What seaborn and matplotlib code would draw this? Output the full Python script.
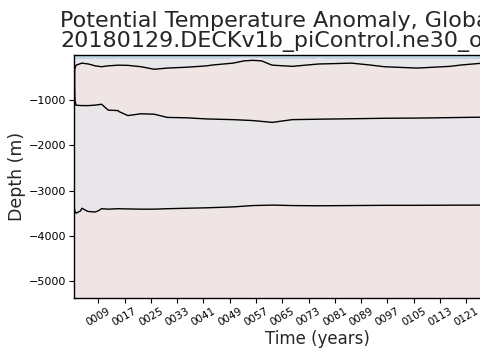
import numpy as np
import matplotlib
matplotlib.use("Agg")
import matplotlib.pyplot as plt
from matplotlib.colors import ListedColormap, BoundaryNorm
import seaborn as sns

sns.set_theme(style="ticks")
plt.rcParams['font.family'] = ['DejaVu Sans']

years = [1.6, 2.2, 4, 6, 8, 10, 12, 15, 18, 22, 26, 30, 36, 42, 50, 56, 62,
         68, 76, 86, 96, 106, 116, 126, 136, 150]
depth = [0, -60, -130, -220, -320, -450, -700, -1000, -1250, -1500, -2000,
         -2800, -3200, -3450, -3700, -4500, -5400]

row_0 = [-0.04, -0.1, -0.11, -0.1, -0.09, -0.11, -0.1, -0.09, -0.1, -0.11, -0.09, -0.1, -0.11,
         -0.1, -0.09, -0.1, -0.11, -0.1, -0.09, -0.11, -0.1, -0.09, -0.11, -0.1, -0.09, -0.1]
row_60 = [-0.02, -0.08, -0.085, -0.075, -0.07, -0.085, -0.08, -0.07, -0.08, -0.085, -0.075, -0.08, -0.085,
          -0.08, -0.07, -0.075, -0.085, -0.08, -0.07, -0.08, -0.085, -0.075, -0.08, -0.08, -0.07, -0.08]
row_130 = [-0.01, -0.02, -0.02, -0.02, -0.02, -0.02, -0.02, -0.02, -0.02, -0.02, -0.02, -0.02, -0.02,
           -0.02, -0.02, 0.016, -0.02, -0.02, -0.02, -0.02, -0.02, -0.02, -0.02, -0.02, -0.02, -0.02]
row_220 = [-0.01, -0.002, 0.016, 0.006, -0.005, -0.013, -0.005, -0.001, -0.002, -0.013, -0.02, -0.045, -0.02,
           -0.005, 0.016, 0.02, -0.001, -0.009, 0.006, 0.016, -0.013, -0.045, -0.009, 0.016, 0.006, -0.001]
row_320 = [-0.01, 0.02, 0.02, 0.02, 0.02, 0.02, 0.02, 0.02, 0.02, 0.02, 0.001, 0.02, 0.02,
           0.02, 0.02, 0.02, 0.02, 0.02, 0.02, 0.02, 0.02, 0.02, 0.02, 0.02, 0.02, 0.02]
row_450 = [-0.01] + [0.02] * 25
row_700 = [-0.01] + [0.02] * 25
row_1000 = [-0.01] + [0.01] * 25
row_1250 = [-0.01, -0.0127, -0.011, -0.011, -0.013, -0.018, -0.0014, -0.0009] + [0.01] * 18
row_1500 = [-0.02, -0.02, -0.02, -0.02, -0.02, -0.02, -0.02, -0.02, -0.0178, -0.04, -0.0317, -0.0092,
            -0.0079, -0.0052, -0.0039, -0.0025, -0.0004, -0.0039, -0.0047, -0.0056, -0.0067, -0.0072,
            -0.0085, -0.01, -0.0108, -0.0108]
row_2000 = [-0.02] * 26
row_2800 = [-0.02] * 26
row_3200 = [-0.01] * 26
row_3450 = [0.0079, -0.01, 0.0032, -0.001, -0.002, 0.0025, 0.0019, 0.0025, 0.0022, 0.0019, 0.0019,
            0.0025, 0.0032, 0.0039, 0.0056, 0.0092, 0.0108, 0.0092, 0.0085, 0.0092, 0.01, 0.01,
            0.0105, 0.0108, 0.0108, 0.0108]
row_3700 = [0.02, 0.04] + [0.02] * 24
row_4500 = [0.02] * 26
row_5400 = [0.02] * 26

theta_anom = np.array([row_0, row_60, row_130, row_220, row_320, row_450, row_700, row_1000,
                       row_1250, row_1500, row_2000, row_2800, row_3200, row_3450, row_3700,
                       row_4500, row_5400])

levels = [-0.5, -0.2, -0.05, 0, 0.05, 0.2, 0.5]
band_colors = ["#7fa6c8", "#a9c3d8", "#c2d5e3", "#e8e6e9", "#eee5e4", "#e6cbc6", "#d9a89e", "#c9837a"]
cmap = ListedColormap(band_colors[1:-1])
cmap.set_under(band_colors[0])
cmap.set_over(band_colors[-1])
norm = BoundaryNorm(levels, cmap.N)

fig = plt.figure(figsize=(4.8, 3.6), dpi=100)
ax = fig.add_axes([74 / 480, 62 / 360, 486 / 480, 243 / 360])
X, Y = np.meshgrid(years, depth)
ax.contourf(X, Y, theta_anom, levels=levels, cmap=cmap, norm=norm, extend="both")
ax.contour(X, Y, theta_anom, levels=[0], colors="black", linewidths=1.0)

ax.set_xlim(1.6, 149.5)
ax.set_ylim(-5375, 0)
yt = [-1000, -2000, -3000, -4000, -5000]
ax.set_yticks(yt)
ax.set_yticklabels(["\u22121000", "\u22122000", "\u22123000", "\u22124000", "\u22125000"], fontsize=8)
xt = list(range(9, 122, 8))
ax.set_xticks(xt)
ax.set_xticklabels(["%04d" % v for v in xt], rotation=30, fontsize=7.5)
ax.tick_params(direction="out", length=3.5, width=0.8, colors="black", pad=2)
for s in ax.spines.values():
    s.set_color("black")
    s.set_linewidth(1.0)
ax.set_ylabel("Depth (m)", fontsize=12.5, labelpad=2)
ax.set_xlabel("Time (years)", fontsize=12, labelpad=2)

fig.text(60 / 480, 1 - 27 / 360, "Potential Temperature Anomaly, Global Ocean", fontsize=16,
         ha="left", va="baseline")
fig.text(60 / 480, 1 - 47 / 360, "20180129.DECKv1b_piControl.ne30_oECv3_ICG.edison", fontsize=16,
         ha="left", va="baseline")

fig.savefig("out.png", dpi=100)
